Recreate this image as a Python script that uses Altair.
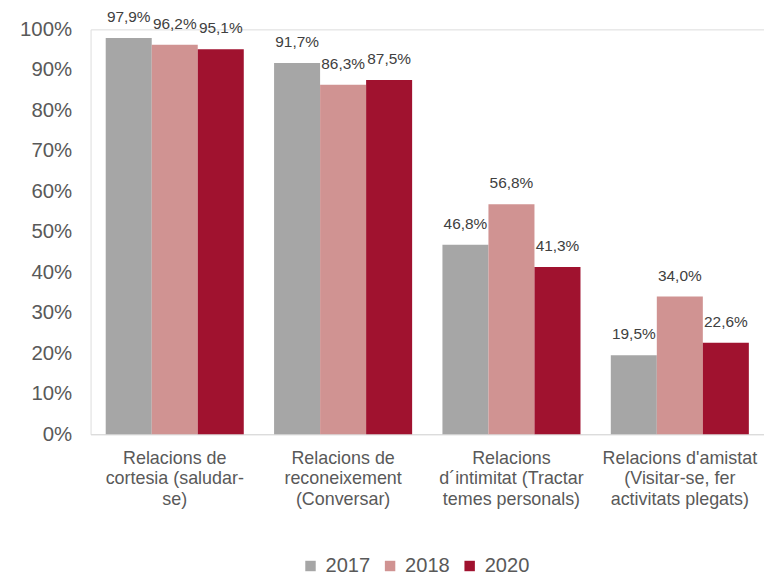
import altair as alt
import pandas as pd

categories = [
    "Relacions de cortesia (saludar-se)",
    "Relacions de reconeixement (Conversar)",
    "Relacions d´intimitat (Tractar temes personals)",
    "Relacions d'amistat (Visitar-se, fer activitats plegats)",
]
category_lines = [
    ["Relacions de", "cortesia (saludar-", "se)"],
    ["Relacions de", "reconeixement", "(Conversar)"],
    ["Relacions", "d´intimitat (Tractar", "temes personals)"],
    ["Relacions d'amistat", "(Visitar-se, fer", "activitats plegats)"],
]
years = ["2017", "2018", "2020"]
values_2017 = [97.9, 91.7, 46.8, 19.5]
values_2018 = [96.2, 86.3, 56.8, 34.0]
values_2020 = [95.1, 87.5, 41.3, 22.6]
colors = ["#a6a6a6", "#d09392", "#a0122f"]

rows = []
for yr, vals in zip(years, [values_2017, values_2018, values_2020]):
    for c, v in zip(categories, vals):
        rows.append({"cat": c, "year": yr, "value": v,
                     "label": f"{v:.1f}".replace(".", ",") + "%"})
df = pd.DataFrame(rows)

label_map = {c: "|".join(l) for c, l in zip(categories, category_lines)}
expr_parts = " : ".join([f"datum.value == {c!r} ? split({label_map[c]!r}, '|')" for c in categories]) + " : datum.value"

FONT = "Liberation Sans"

x = alt.X("cat:N", sort=categories, title=None,
          scale=alt.Scale(paddingInner=0.18, paddingOuter=0.09),
          axis=alt.Axis(labelAngle=0, labelExpr=expr_parts, labelFontSize=18,
                        labelColor="#595959", labelLineHeight=21, labelPadding=15,
                        ticks=False, domainColor="#d9d9d9", labelFont=FONT,
                        labelBaseline="top", labelLimit=300))
xo = alt.XOffset("year:N", sort=years, scale=alt.Scale(paddingInner=0, paddingOuter=0))

bars = alt.Chart(df).mark_bar().encode(
    x=x, xOffset=xo,
    y=alt.Y("value:Q", title=None,
            scale=alt.Scale(domain=[0, 100], nice=False),
            axis=alt.Axis(values=list(range(0, 101, 10)), labelExpr="datum.value + '%'",
                          labelFontSize=20.5, labelColor="#595959", labelPadding=19,
                          ticks=False, domain=False, grid=False, labelFont=FONT)),
    color=alt.Color("year:N", sort=years, scale=alt.Scale(domain=years, range=colors),
                    legend=alt.Legend(title=None, orient="none", direction="horizontal",
                                      legendX=211, legendY=529, symbolType="square",
                                      symbolSize=110, symbolStrokeWidth=0,
                                      labelFontSize=20.2, labelColor="#595959",
                                      labelOffset=5, labelFont=FONT, columnPadding=9,
                                      symbolOpacity=1)),
)

texts = alt.Chart(df).mark_text(baseline="middle", dy=-21, fontSize=15.5,
                                color="#404040", font=FONT).encode(
    x=alt.X("cat:N", sort=categories), xOffset=xo,
    y="value:Q", text="label:N",
)

chart = alt.layer(bars, texts).properties(
    width=677, height=407,
    autosize=alt.AutoSizeParams(type="none"),
    padding={"left": 83, "top": 20, "right": 0, "bottom": 140},
).configure_view(strokeWidth=0).configure(background="white")

chart.save("out.html", embed_options={"renderer": "svg", "actions": False})
